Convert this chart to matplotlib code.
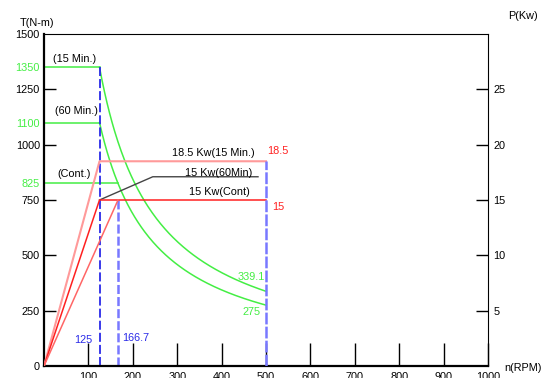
import matplotlib
matplotlib.use("Agg")
import matplotlib.pyplot as plt
import numpy as np

plt.rcParams['font.family'] = ['Liberation Sans', 'DejaVu Sans']
plt.rcParams['lines.scale_dashes'] = False

# Operating points
n_base = 125.0          # base speed, rpm
n_cont = 166.7          # continuous-duty corner speed, rpm
n_max = 500.0           # maximum speed, rpm
torque_15min = 1350     # N-m
torque_60min = 1100     # N-m
torque_cont = 825       # N-m
torque_end_15min = 339.1
torque_end_60min = 275
power_15min = 18.5      # kW
power_cont = 15         # kW
power_60min_anchor = [(125, 750), (245, 855), (482, 855)]  # leader line for the 60 min label

x_ticks = [100, 200, 300, 400, 500, 600, 700, 800, 900, 1000]
t_ticks = [0, 250, 500, 750, 825, 1000, 1100, 1250, 1350, 1500]
t_green = [825, 1100, 1350]
p_ticks = [5, 10, 15, 20, 25]

GREEN = '#44ee44'
RED = '#ff2020'
PINK = '#ff9a9a'
SALMON = '#ff6666'
BLUE_DARK = '#2a2ae8'
BLUE_LIGHT = '#7878ff'
FS = 7.8

fig = plt.figure(figsize=(5.43, 3.78), dpi=100)
ax = fig.add_axes([44 / 543, 12 / 378, (488 - 44) / 543, (366 - 34) / 378])
ax.set_xlim(0, 1000)
ax.set_ylim(0, 1500)
ax2 = ax.twinx()
ax2.set_ylim(0, 30)

# Spines
for s in ['left', 'bottom']:
    ax.spines[s].set_linewidth(1.6)
ax.spines['top'].set_linewidth(0.8)
ax.spines['right'].set_visible(False)
for s in ['left', 'bottom', 'top']:
    ax2.spines[s].set_visible(False)
ax2.spines['right'].set_linewidth(0.8)

# Torque envelope: constant torque up to base speed, then constant power
ax.plot([0, n_base], [torque_15min, torque_15min], color=GREEN, lw=1.1)
ax.plot([0, n_base], [torque_60min, torque_60min], color=GREEN, lw=1.1)
ax.plot([0, n_cont], [torque_cont, torque_cont], color=GREEN, lw=1.1)
n = np.linspace(n_base, n_max, 200)
ax.plot(n, torque_15min * n_base / n, color=GREEN, lw=1.1)
ax.plot(n, torque_60min * n_base / n, color=GREEN, lw=1.1)

# Power curves (right axis)
ax2.plot([0, n_base, n_max], [0, power_15min, power_15min], color=PINK, lw=1.5)
ax2.plot([0, n_base, n_max], [0, power_cont, power_cont], color=RED, lw=1.1)
ax2.plot([0, n_cont], [0, power_cont], color=SALMON, lw=1.1)

# Leader line for the 60 min rating
lx, ly = zip(*power_60min_anchor)
ax.plot(lx, ly, color='#444444', lw=1.0)

# Speed markers
ax.plot([n_base, n_base], [0, torque_15min], color=BLUE_DARK, lw=1.3,
        linestyle=(0, (6.5, 2.2)))
ax.plot([n_cont, n_cont], [0, 750], color=BLUE_LIGHT, lw=1.8,
        linestyle=(0, (6.5, 2.2)))
ax2.plot([n_max, n_max], [0, power_15min], color=BLUE_LIGHT, lw=1.8,
         linestyle=(0, (8.5, 1.6)))

# Ticks
ax.set_xticks(x_ticks)
ax.set_xticklabels([str(v) for v in x_ticks], fontsize=FS)
ax.tick_params(axis='x', direction='in', length=16.5, width=1.0, pad=4.3)

ax.set_yticks(t_ticks)
ax.set_yticklabels([str(v) for v in t_ticks], fontsize=FS)
ax.tick_params(axis='y', direction='in', length=8.6, width=1.0, pad=3)
for tick, v in zip(ax.yaxis.get_major_ticks(), t_ticks):
    if v in (0, 825, 1100, 1350, 1500):
        tick.tick1line.set_visible(False)
    if v in t_green:
        tick.label1.set_color(GREEN)

ax2.set_yticks(p_ticks)
ax2.set_yticklabels([str(v) for v in p_ticks], fontsize=FS)
ax2.tick_params(axis='y', direction='in', length=8.6, width=1.0, pad=4)

# Axis titles
fig.text(20 / 543, 1 - 23 / 378, 'T(N-m)', fontsize=FS, va='center', ha='left')
fig.text(523 / 543, 1 - 16 / 378, 'P(Kw)', fontsize=FS, va='center', ha='center')
fig.text(523 / 543, 1 - 368 / 378, 'n(RPM)', fontsize=FS, va='center', ha='center')

# Curve labels
ax.text(20, 1387, '(15 Min.)', fontsize=FS, va='center', ha='left')
ax.text(25, 1150, '(60 Min.)', fontsize=FS, va='center', ha='left')
ax.text(31, 867, '(Cont.)', fontsize=FS, va='center', ha='left')
ax.text(475, 961, '18.5 Kw(15 Min.)', fontsize=FS, va='center', ha='right')
ax.text(468, 871, '15 Kw(60Min)', fontsize=FS, va='center', ha='right')
ax.text(464, 786, '15 Kw(Cont)', fontsize=FS, va='center', ha='right')
ax.text(502, 970, f'{power_15min}', fontsize=FS, va='center', ha='left', color=RED)
ax.text(513, 718, f'{power_cont}', fontsize=FS, va='center', ha='left', color=RED)
ax.text(498, 404, f'{torque_end_15min}', fontsize=FS, va='center', ha='right', color=GREEN)
ax.text(489, 242, f'{torque_end_60min}', fontsize=FS, va='center', ha='right', color=GREEN)
ax.text(110, 117, f'{n_base:g}', fontsize=FS, va='center', ha='right', color=BLUE_DARK)
ax.text(176, 126, f'{n_cont:g}', fontsize=FS, va='center', ha='left', color=BLUE_DARK)

fig.savefig('out.png', dpi=100)
